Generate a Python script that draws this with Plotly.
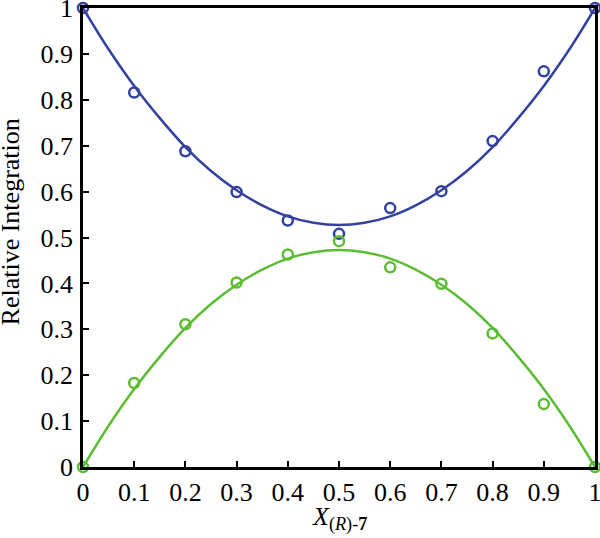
import plotly.graph_objects as go

# measured points
x_pts = [0, 0.1, 0.2, 0.3, 0.4, 0.5, 0.6, 0.7, 0.8, 0.9, 1.0]
blue_pts = [1.0, 0.816, 0.688, 0.599, 0.537, 0.508, 0.564, 0.601, 0.710, 0.862, 1.0]
green_pts = [0.0, 0.183, 0.311, 0.402, 0.463, 0.492, 0.435, 0.399, 0.291, 0.137, 0.0]

# fitted curves
x_fit = [0, 0.05, 0.1, 0.15, 0.2, 0.25, 0.3, 0.35, 0.4, 0.45, 0.5,
         0.55, 0.6, 0.65, 0.7, 0.75, 0.8, 0.85, 0.9, 0.95, 1.0]
blue_fit = [1.0, 0.91, 0.83, 0.76, 0.697, 0.645, 0.603, 0.57, 0.546, 0.532, 0.527,
            0.532, 0.546, 0.57, 0.603, 0.645, 0.697, 0.76, 0.83, 0.91, 1.0]
green_fit = [0.0, 0.09, 0.17, 0.24, 0.303, 0.355, 0.397, 0.43, 0.454, 0.468, 0.473,
             0.468, 0.454, 0.43, 0.397, 0.355, 0.303, 0.24, 0.17, 0.09, 0.0]

ticks = [0, 0.1, 0.2, 0.3, 0.4, 0.5, 0.6, 0.7, 0.8, 0.9, 1]
tick_text = ["0", "0.1", "0.2", "0.3", "0.4", "0.5", "0.6", "0.7", "0.8", "0.9", "1"]

BLUE = "#3341A0"
GREEN = "#5CBD33"
FONT = "Liberation Serif"

fig = go.Figure()

fig.add_trace(go.Scatter(x=x_fit, y=blue_fit, mode="lines", line=dict(color=BLUE, width=2.5, shape="spline"),
                         cliponaxis=False, showlegend=False))
fig.add_trace(go.Scatter(x=x_fit, y=green_fit, mode="lines", line=dict(color=GREEN, width=2.5, shape="spline"),
                         cliponaxis=False, showlegend=False))
fig.add_trace(go.Scatter(x=x_pts, y=blue_pts, mode="markers",
                         marker=dict(symbol="circle-open", size=10, color=BLUE, line=dict(width=2.5)),
                         cliponaxis=False, showlegend=False))
fig.add_trace(go.Scatter(x=x_pts, y=green_pts, mode="markers",
                         marker=dict(symbol="circle-open", size=10, color=GREEN, line=dict(width=2.5)),
                         cliponaxis=False, showlegend=False))

axis_style = dict(
  range=[0, 1],
  tickvals=ticks,
  ticktext=tick_text,
  ticks="inside",
  ticklen=6,
  tickwidth=2,
  tickcolor="black",
  showline=True,
  linecolor="black",
  linewidth=2.5,
  mirror=True,
  showgrid=False,
  zeroline=False,
  automargin=False,
  ticklabeloverflow="allow",
  tickfont=dict(family=FONT, size=26, color="black"),
)

fig.update_xaxes(**axis_style, ticklabelstandoff=0)
fig.update_yaxes(**axis_style, ticklabelstandoff=2)

fig.add_annotation(text="<i>X</i><sub>(<i>R</i>)-<b>7</b></sub>", xref="paper", yref="paper",
                   x=0.5, y=-0.072, xanchor="center", yanchor="top", showarrow=False,
                   font=dict(family=FONT, size=26, color="black"))
fig.add_annotation(text="Relative Integration", xref="paper", yref="paper",
                   x=-0.1426, y=0.535, xanchor="center", yanchor="middle", textangle=-90, showarrow=False,
                   font=dict(family=FONT, size=26, color="black"))

fig.update_layout(
  width=600,
  height=538,
  margin=dict(l=83, r=5, t=8, b=71),
  plot_bgcolor="white",
  paper_bgcolor="white",
)

# drop the page's default body margin so the figure sits at the window corner
fig.write_html("out.html", config={"displayModeBar": False},
               post_script="document.body.style.margin='0';document.body.style.overflow='hidden';")
